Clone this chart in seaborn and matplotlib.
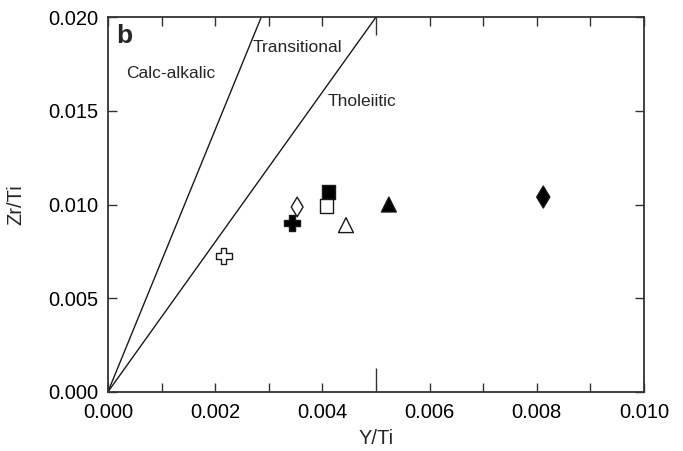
import matplotlib
matplotlib.use("Agg")
import matplotlib.pyplot as plt
import seaborn as sns
import pandas as pd

sns.set_theme(style="white")
plt.rcParams['font.family'] = ['Liberation Sans', 'DejaVu Sans']

# Sample points (Y/Ti, Zr/Ti)
samples = ['s1', 's2', 's3', 's4', 's5', 's6', 's7', 's8']
y_ti = [0.00216, 0.00343, 0.00353, 0.00412, 0.00408, 0.00444, 0.00524, 0.00812]
zr_ti = [0.00725, 0.00901, 0.00987, 0.01067, 0.00992, 0.00890, 0.01000, 0.01040]
markers = ['P', 'P', 'd', 's', 's', '^', '^', 'd']
fills = ['white', 'black', 'white', 'black', 'white', 'white', 'black', 'black']
sizes = [140, 140, 100, 90, 90, 115, 115, 125]

# Field boundaries (lines through origin)
calc_trans_x = [0.0, 0.00286]
calc_trans_y = [0.0, 0.020]
trans_thol_x = [0.0, 0.0050]
trans_thol_y = [0.0, 0.020]

df = pd.DataFrame({'sample': samples, 'Y/Ti': y_ti, 'Zr/Ti': zr_ti})

fig = plt.figure(figsize=(6.83, 4.51), dpi=100)
ax = fig.add_axes([0.158, 0.131, 0.785, 0.831])

sns.lineplot(x=calc_trans_x, y=calc_trans_y, ax=ax, color='#1a1a1a', lw=1.0)
sns.lineplot(x=trans_thol_x, y=trans_thol_y, ax=ax, color='#1a1a1a', lw=1.0)

sns.scatterplot(data=df, x='Y/Ti', y='Zr/Ti', hue='sample', style='sample',
                size='sample', sizes=dict(zip(samples, sizes)),
                palette=dict(zip(samples, fills)),
                markers=dict(zip(samples, markers)),
                edgecolor='#1a1a1a', linewidth=1.0, legend=False, ax=ax, zorder=3)

ax.set_xlim(0, 0.010)
ax.set_ylim(0, 0.020)
ax.set_xticks([0.000, 0.002, 0.004, 0.006, 0.008, 0.010])
ax.set_xticks([0.001, 0.003, 0.005, 0.007, 0.009], minor=True)
ax.set_yticks([0.000, 0.005, 0.010, 0.015, 0.020])
ax.xaxis.set_major_formatter(matplotlib.ticker.FormatStrFormatter('%.3f'))
ax.yaxis.set_major_formatter(matplotlib.ticker.FormatStrFormatter('%.3f'))

ax.tick_params(which='both', direction='in', length=6.5, width=1.0, color='#333333',
               top=True, right=True, bottom=True, left=True, labelsize=14.5,
               labelcolor='black')
ax.tick_params(axis='x', which='both', pad=8)
ax.tick_params(axis='y', which='both', pad=7)
# longer tick at 0.005
for t in [ax.xaxis.get_minor_ticks()[2]]:
    t.tick1line.set_markersize(17)
    t.tick2line.set_markersize(13)

for sp in ax.spines.values():
    sp.set_color('#333333')
    sp.set_linewidth(1.3)

ax.set_xlabel('Y/Ti', fontsize=14.5, labelpad=5)
ax.set_ylabel('Zr/Ti', fontsize=14.5, labelpad=16)

ax.text(0.00015, 0.0190, 'b', fontsize=19, fontweight='bold', va='center', ha='left')
ax.text(0.00034, 0.0170, 'Calc-alkalic', fontsize=12.5, va='center', ha='left')
ax.text(0.00270, 0.0184, 'Transitional', fontsize=12.5, va='center', ha='left')
ax.text(0.00410, 0.0155, 'Tholeiitic', fontsize=12.5, va='center', ha='left')

fig.savefig('out.png', dpi=100)
